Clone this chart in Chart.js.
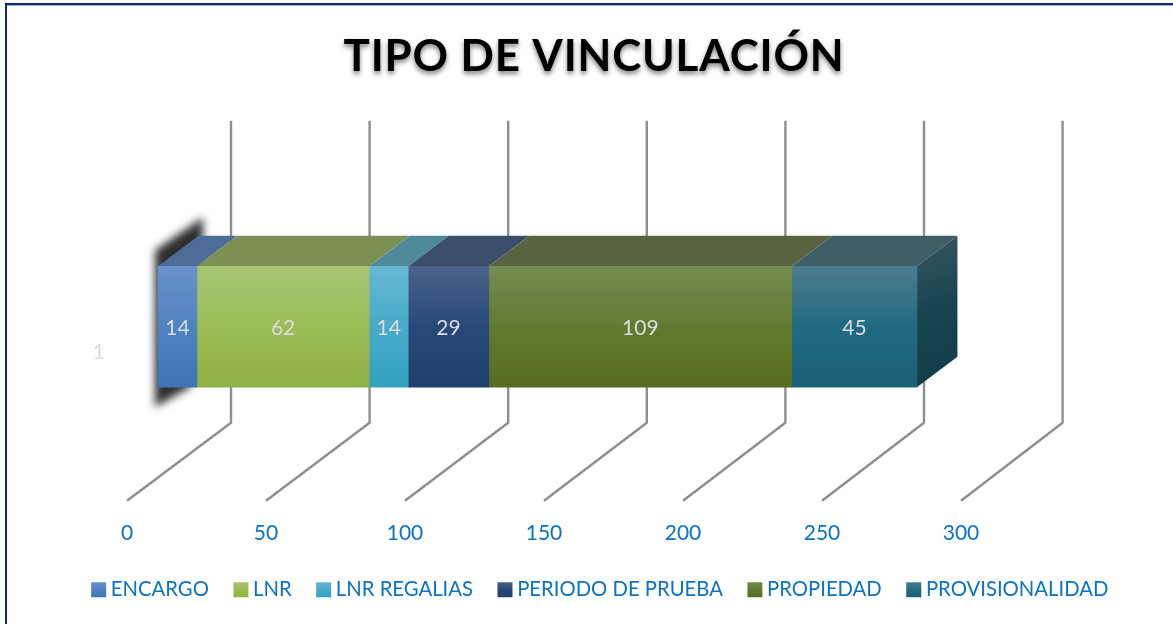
<!DOCTYPE html>
<html>
<head>
<meta charset="utf-8">
<title>Tipo de vinculación</title>
<script src="https://cdn.jsdelivr.net/npm/chart.js@4"></script>
<style>
html,body{margin:0;padding:0;background:#fff;overflow:hidden}
#wrap{position:relative;width:1173px;height:624px;background:#fff}
#frame{position:absolute;left:5px;top:3px;right:-4px;bottom:-4px;border-left:2px solid #0f2a6c;border-top:2px solid #0f2a6c;box-shadow:inset 0 1px 0 #9fb0cf}
canvas{position:absolute;left:0;top:0}
</style>
</head>
<body>
<div id="wrap"><div id="frame"></div><canvas id="c" width="1173" height="624"></canvas></div>
<script>
const chartTitle = "TIPO DE VINCULACIÓN";
const categories = ["1"];
const seriesNames = ["ENCARGO","LNR","LNR REGALIAS","PERIODO DE PRUEBA","PROPIEDAD","PROVISIONALIDAD"];
const encargo = [14];
const lnr = [62];
const lnrRegalias = [14];
const periodoDePrueba = [29];
const propiedad = [109];
const provisionalidad = [45];
const tickValues = [0,50,100,150,200,250,300];
const frontGradients = [
  ["#6a91cb","#5083c0","#3d74b4"],
  ["#a7c473","#9cbc56","#8fb044"],
  ["#66b8d2","#47abc9","#33a1c1"],
  ["#4c628a","#27497a","#1f3f6e"],
  ["#748c52","#627a30","#566c23"],
  ["#4c7b8e","#216b82","#1a6076"]
];
const topColors = ["#4d6d97","#7d9053","#4f8a9b","#3d4d6c","#586440","#3f5e68"];

const AXIS_MAX = 376.26, BAR_SHIFT = 11.15;
const BAR_H = 121, DX = 40.5, DY = 30.5, FLOOR_DX = 104, FLOOR_DY = 78, WALL_EXTRA = 32, WALL_SCALE = 0.9971, Y_LABEL_OFFSET = 25.5;
const font = "Lato, Carlito, sans-serif";

function vGrad(ctx, y0, y1, stops){
  const g = ctx.createLinearGradient(0,y0,0,y1);
  g.addColorStop(0,stops[0]); g.addColorStop(.5,stops[1]); g.addColorStop(1,stops[2]);
  return g;
}
const values = [encargo,lnr,lnrRegalias,periodoDePrueba,propiedad,provisionalidad];
const datasets = seriesNames.map((name,i)=>({
  label:name,
  data:values[i],
  xAxisID:"xBar",
  yAxisID:"y",
  barThickness:BAR_H,
  borderWidth:0,
  backgroundColor:(c)=>{
    const a=c.chart.chartArea;
    if(!a) return frontGradients[i][1];
    const m=(a.top+a.bottom)/2;
    return vGrad(c.chart.ctx,m-BAR_H/2,m+BAR_H/2,frontGradients[i]);
  }
}));

const poly=(ctx,pts,fill)=>{
  ctx.beginPath();
  pts.forEach((p,i)=>i?ctx.lineTo(p[0],p[1]):ctx.moveTo(p[0],p[1]));
  ctx.closePath();
  ctx.fillStyle=fill; ctx.fill();
};

const scene3d = {
  id:"scene3d",
  afterLayout(chart){
    chart.legend.left += 8.5; chart.legend.right += 8.5;
  },
  beforeDraw(chart){
    const t=chart.titleBlock;
    if(t && !t._wrapped){
      const d=t.draw.bind(t);
      t.draw=function(){
        const ctx=chart.ctx; ctx.save();
        ctx.letterSpacing="0.8px";
        ctx.shadowColor="rgba(0,0,0,.5)"; ctx.shadowBlur=5; ctx.shadowOffsetX=0; ctx.shadowOffsetY=3;
        d(); ctx.restore();
      };
      t._wrapped=true;
    }
  },
  beforeDatasetsDraw(chart){
    const ctx=chart.ctx, xs=chart.scales.x, a=chart.chartArea;
    ctx.save();
    ctx.strokeStyle="#8e8e8e"; ctx.lineWidth=2.4; ctx.lineCap="butt"; ctx.lineJoin="round";
    xs.ticks.forEach(t=>{
      const x=xs.getPixelForValue(t.value);
      const back=a.left+FLOOR_DX+(x-a.left)*WALL_SCALE;
      ctx.beginPath();
      ctx.moveTo(x,a.bottom);
      ctx.lineTo(back,a.bottom-FLOOR_DY);
      ctx.lineTo(back,a.top-WALL_EXTRA);
      ctx.stroke();
    });
    ctx.restore();
    const bars=chart.data.datasets.map((_,i)=>chart.getDatasetMeta(i).data[0]);
    const first=bars[0], last=bars[bars.length-1];
    const top=first.y-BAR_H/2, bot=first.y+BAR_H/2, x0=first.base;
    ctx.save();
    ctx.filter="blur(4.5px)";
    poly(ctx,[[x0-3,top-16],[x0+45,top-49],[x0+45,top-20],[x0+32,bot],[x0-3,bot+20]],"#2e2e2e");
    ctx.restore();
    bars.forEach((b,i)=>{
      poly(ctx,[[b.base,top],[b.x,top],[b.x+DX,top-DY],[b.base+DX,top-DY]],topColors[i]);
    });
    const g=ctx.createLinearGradient(last.x,top-DY,last.x+DX,bot);
    g.addColorStop(0,"#355560"); g.addColorStop(.5,"#17444f"); g.addColorStop(1,"#123c48");
    poly(ctx,[[last.x,top],[last.x+DX,top-DY],[last.x+DX,bot-DY],[last.x,bot]],g);
  },
  afterDatasetsDraw(chart){
    const ctx=chart.ctx;
    ctx.save();
    ctx.font="21px "+font; ctx.fillStyle="#dcdcdc"; ctx.textAlign="center"; ctx.textBaseline="middle";
    chart.data.datasets.forEach((d,i)=>{
      const b=chart.getDatasetMeta(i).data[0];
      ctx.fillText(String(d.data[0]),(b.base+b.x)/2,b.y+1.5);
    });
    ctx.restore();
  }
};

new Chart(document.getElementById("c"),{
  type:"bar",
  data:{labels:categories,datasets},
  plugins:[scene3d],
  options:{
    indexAxis:"y",
    responsive:false,
    animation:false,
    devicePixelRatio:1,
    layout:{padding:{left:15,right:0,top:0,bottom:14}},
    plugins:{
      tooltip:{enabled:false},
      title:{display:true,text:chartTitle,color:"#000",font:{family:font,size:44,weight:"bold"},padding:{top:30,bottom:70}},
      legend:{
        display:true,position:"bottom",
        labels:{
          font:{family:font,size:20.3},color:"#0b72c4",
          usePointStyle:true,boxWidth:4,boxHeight:15,padding:30,
          generateLabels:(chart)=>seriesNames.map((n,i)=>({
            text:n,datasetIndex:i,pointStyle:"rect",lineWidth:0,
            strokeStyle:"transparent",
            fillStyle:vGrad(chart.ctx,582,597,frontGradients[i]),
            fontColor:"#0b72c4"
          }))
        }
      }
    },
    scales:{
      x:{
        type:"linear",position:"bottom",min:0,max:AXIS_MAX,
        grid:{display:false},border:{display:false},
        ticks:{color:"#0b72c4",font:{family:font,size:21},padding:12,maxRotation:0,autoSkip:false,callback:v=>String(v)},
        afterBuildTicks:s=>{s.ticks=tickValues.map(v=>({value:v}));},
        afterFit:s=>{s.height=49;}
      },
      xBar:{
        type:"linear",display:false,stacked:true,min:-BAR_SHIFT,max:AXIS_MAX-BAR_SHIFT
      },
      y:{
        type:"category",position:"left",stacked:true,
        grid:{display:false},border:{display:false},
        ticks:{color:"#d9d9d9",font:{family:font,size:21},padding:14,labelOffset:Y_LABEL_OFFSET},
        afterFit:s=>{s.width=112;}
      }
    }
  }
});
</script>
</body>
</html>
